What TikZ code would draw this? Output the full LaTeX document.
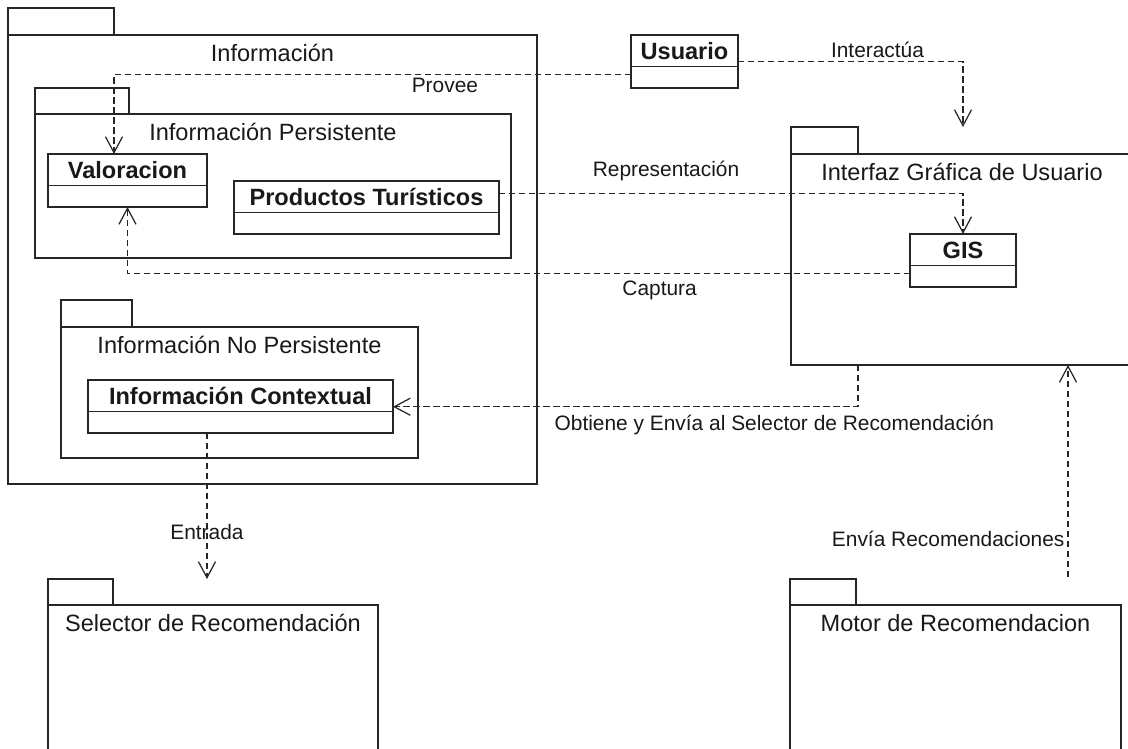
\documentclass[tikz,border=0pt]{standalone}
\usepackage{fontspec}
\setmainfont{Liberation Sans}
\usepackage{tikz}
\usetikzlibrary{positioning,calc,arrows.meta}

\begin{document}
\begin{tikzpicture}[x=0.02cm, y=-0.02cm,
    pkg/.style={draw=black!85, line width=0.8pt, rectangle, anchor=north west, inner sep=0pt, outer sep=0pt},
    pkgtab/.style={draw=black!85, line width=0.8pt, rectangle, inner sep=0pt, outer sep=0pt, minimum height=0.54cm},
    pkgtitle/.style={inner sep=0pt, font=\fontsize{13.4}{16}\selectfont, text height=9.6pt, text depth=0pt, text=black!90},
    cls/.style={draw=black!85, line width=0.8pt, rectangle, anchor=north west, inner sep=0pt, outer sep=0pt, minimum height=0.63cm, font=\bfseries\fontsize{13.4}{16}\selectfont, text height=9.6pt, text depth=0pt, text=black!90},
    clsbody/.style={draw=black!85, line width=0.8pt, rectangle, inner sep=0pt, outer sep=0pt, minimum height=0.43cm},
    dep/.style={draw=black!85, line width=0.7pt, dash pattern=on 0.13cm off 0.07cm, -{Straight Barb[length=3.2mm,width=3.4mm]}},
    lbl/.style={inner sep=0pt, font=\fontsize{11.9}{14}\selectfont, text height=8.5pt, text depth=0pt, text=black!90}]

    \path[fill=white, use as bounding box] (0,0) rectangle (1128,749);

    % packages
    \node[pkg, minimum width=10.58cm, minimum height=8.98cm] (info) at (8,35) {};
    \node[pkgtab, minimum width=2.12cm, above right=0pt of info.north west] (info-tab) {};
    \node[pkgtitle, below=0.19cm of info.north] (info-t) {Información};

    \node[pkg, minimum width=9.52cm, minimum height=2.88cm] (pers) at (35,114) {};
    \node[pkgtab, minimum width=1.88cm, minimum height=0.52cm, above right=0pt of pers.north west] (pers-tab) {};
    \node[pkgtitle, below=0.19cm of pers.north] (pers-t) {Información Persistente};

    \node[pkg, minimum width=7.14cm, minimum height=2.62cm] (nopers) at (61,327) {};
    \node[pkgtab, minimum width=1.42cm, above right=0pt of nopers.north west] (nopers-tab) {};
    \node[pkgtitle, below=0.19cm of nopers.north] (nopers-t) {Información No Persistente};

    \node[pkg, minimum width=6.84cm, minimum height=4.22cm] (gui) at (791,154) {};
    \node[pkgtab, minimum width=1.34cm, above right=0pt of gui.north west] (gui-tab) {};
    \node[pkgtitle, below=0.19cm of gui.north] (gui-t) {Interfaz Gráfica de Usuario};

    \node[pkg, minimum width=6.6cm, minimum height=3.1cm] (sel) at (48,605) {};
    \node[pkgtab, minimum width=1.3cm, minimum height=0.52cm, above right=0pt of sel.north west] (sel-tab) {};
    \node[pkgtitle, below=0.19cm of sel.north] (sel-t) {Selector de Recomendación};

    \node[pkg, minimum width=6.62cm, minimum height=3.1cm] (motor) at (790,605) {};
    \node[pkgtab, minimum width=1.32cm, minimum height=0.52cm, above right=0pt of motor.north west] (motor-tab) {};
    \node[pkgtitle, below=0.19cm of motor.north] (motor-t) {Motor de Recomendacion};

    % classes
    \node[cls, minimum width=3.18cm] (valor) at (48,154) {Valoracion};
    \node[clsbody, minimum width=3.18cm, below=0pt of valor] (valor-c) {};

    \node[cls, minimum width=5.3cm] (prod) at (234,181) {Productos Turísticos};
    \node[clsbody, minimum width=5.3cm, below=0pt of prod] (prod-c) {};

    \node[cls, minimum width=2.14cm] (usuario) at (631,35) {Usuario};
    \node[clsbody, minimum width=2.14cm, below=0pt of usuario] (usuario-c) {};

    \node[cls, minimum width=2.12cm] (gis) at (910,234) {GIS};
    \node[clsbody, minimum width=2.12cm, below=0pt of gis] (gis-c) {};

    \node[cls, minimum width=6.1cm] (ctx) at (88,380) {Información Contextual};
    \node[clsbody, minimum width=6.1cm, below=0pt of ctx] (ctx-c) {};

    \coordinate (entrada) at ([xshift=-0.67cm]ctx-c.south);
    \coordinate (envia) at (1068,577);

    % dependencies
    \draw[dep] ([yshift=0.06cm]usuario-c.west) -| node[lbl, below=0.05cm, pos=0.18] {Provee} ([xshift=-0.27cm]valor.north);
    \draw[dep] ([yshift=-0.21cm]usuario.east) -| node[lbl, above=0.07cm, pos=0.31] {Interactúa} (gis.north |- gui-tab.north);
    \draw[dep] ([yshift=0.07cm]prod.east) -| node[lbl, above=0.33cm, pos=0.18] {Representación} (gis.north);
    \draw[dep] ([yshift=0.05cm]gis-c.west) -| node[lbl, below=0.13cm, pos=0.16] {Captura} (valor-c.south);
    \draw[dep] (gui-tab.east |- gui.south) |- node[lbl, below=0.17cm, pos=0.59] {Obtiene y Envía al Selector de Recomendación} ([yshift=-0.22cm]ctx.east);
    \draw[dep] (entrada) -- node[lbl, pos=0.68] {Entrada} (entrada |- sel-tab.north);
    \draw[dep] (envia) -- node[lbl, left=0.06cm, pos=0.18] {Envía Recomendaciones} (envia |- gui.south);
\end{tikzpicture}
\end{document}
